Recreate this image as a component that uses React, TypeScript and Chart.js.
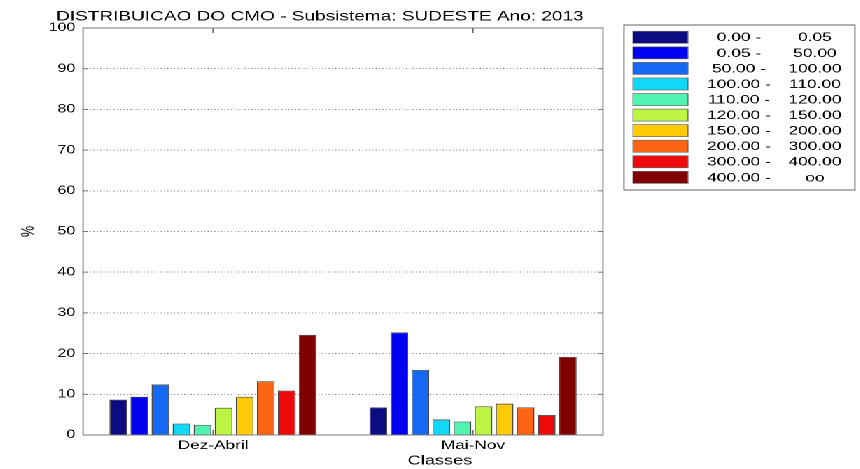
import React, { useEffect, useRef } from 'react';
import { Chart, registerables } from 'chart.js';

Chart.register(...registerables);

// ---------- data ----------
const titleText = 'DISTRIBUICAO DO CMO - Subsistema: SUDESTE Ano: 2013';
const categories = ['Dez-Abril', 'Mai-Nov'];
const rangeLow = ['0.00 -', '0.05 -', '50.00 -', '100.00 -', '110.00 -', '120.00 -', '150.00 -', '200.00 -', '300.00 -', '400.00 -'];
const rangeHigh = ['0.05', '50.00', '100.00', '110.00', '120.00', '150.00', '200.00', '300.00', '400.00', 'oo'];
const dezAbril = [8.7, 9.4, 12.4, 2.8, 2.5, 6.7, 9.4, 13.2, 10.9, 24.6];
const maiNov = [6.8, 25.2, 16.0, 3.8, 3.3, 7.0, 7.7, 6.8, 4.9, 19.2];
const colors = ['#0b0b82', '#0000f0', '#1468f2', '#10d9f7', '#50f3b0', '#bcf542', '#fecb06', '#fa6412', '#ee0a0a', '#800000'];
const yTicks = [0, 10, 20, 30, 40, 50, 60, 70, 80, 90, 100];
const yTitle = '%';
const xTitle = 'Classes';

// ---------- layout (the whole canvas is stretched horizontally by S) ----------
const S = 1.4;
const W = 860;
const H = 469;
const FONT = '"Liberation Sans", Arial, Helvetica, sans-serif';

const framePlugin = {
  id: 'frameAndLegend',
  afterDraw(chart: any) {
    const { ctx, chartArea: a, scales } = chart;
    ctx.save();
    const line = (x1: number, y1: number, x2: number, y2: number) => {
      ctx.beginPath();
      ctx.moveTo(x1, y1);
      ctx.lineTo(x2, y2);
      ctx.stroke();
    };
    ctx.strokeStyle = '#6e6e6e';
    ctx.lineWidth = 0.9;
    ctx.strokeRect(a.left, a.top, a.right - a.left, a.bottom - a.top);
    const tl = 5 / S;
    yTicks.forEach((v) => {
      const y = scales.y.getPixelForValue(v);
      line(a.left, y, a.left + tl, y);
      line(a.right, y, a.right - tl, y);
    });
    categories.forEach((_c, i) => {
      const x = scales.x.getPixelForValue(i);
      line(x, a.bottom, x, a.bottom - 5);
      line(x, a.top, x, a.top + 5);
    });

    // title
    ctx.fillStyle = '#000';
    ctx.font = `13.6px ${FONT}`;
    ctx.textAlign = 'left';
    ctx.textBaseline = 'alphabetic';
    ctx.fillText(titleText, 40, 20.5);

    // x axis title (offset to the right as in the reference)
    ctx.font = `13px ${FONT}`;
    ctx.textAlign = 'center';
    ctx.textBaseline = 'middle';
    ctx.fillText(xTitle, 440 / S, 461);

    // legend
    const bx1 = 624 / S, bx2 = 855 / S, by1 = 25, by2 = 190;
    ctx.fillStyle = '#fff';
    ctx.fillRect(bx1, by1, bx2 - bx1, by2 - by1);
    ctx.strokeStyle = '#555';
    ctx.lineWidth = 0.9;
    ctx.strokeRect(bx1, by1, bx2 - bx1, by2 - by1);
    const sx1 = 633 / S, sx2 = 688 / S;
    ctx.font = `12.4px ${FONT}`;
    ctx.textBaseline = 'middle';
    ctx.textAlign = 'center';
    rangeLow.forEach((lo, i) => {
      const cy = 37.3 + 15.56 * i;
      ctx.fillStyle = colors[i];
      ctx.fillRect(sx1, cy - 6, sx2 - sx1, 12);
      ctx.strokeStyle = '#666';
      ctx.lineWidth = 0.7;
      ctx.strokeRect(sx1, cy - 6, sx2 - sx1, 12);
      ctx.fillStyle = '#000';
      ctx.fillText(lo, 739 / S, cy + 0.5);
      ctx.fillText(rangeHigh[i], 815 / S, cy + 0.5);
    });
    ctx.restore();
  },
};

export default function App() {
  const ref = useRef<HTMLCanvasElement>(null);

  useEffect(() => {
    if (!ref.current) return;
    const chart = new Chart(ref.current, {
      type: 'bar',
      data: {
        labels: categories,
        datasets: rangeLow.map((lo, i) => ({
          label: `${lo} ${rangeHigh[i]}`,
          data: [dezAbril[i], maiNov[i]],
          backgroundColor: colors[i],
          borderColor: 'rgba(40,40,40,0.85)',
          borderWidth: 0.8,
          categoryPercentage: 0.81,
          barPercentage: 0.84,
        })),
      },
      options: {
        animation: false,
        responsive: true,
        maintainAspectRatio: false,
        devicePixelRatio: 2,
        layout: { padding: { top: 28, right: (W - 603) / S, left: 0, bottom: 0 } },
        plugins: {
          legend: { display: false },
          title: { display: false },
          tooltip: { enabled: false },
        },
        scales: {
          x: {
            grid: { display: false, drawTicks: false },
            border: { display: false },
            ticks: { color: '#000', font: { family: FONT, size: 12.3 }, padding: 3, maxRotation: 0 },
            title: { display: false, text: xTitle },
            afterFit: (s: any) => { s.height = 34; },
          },
          y: {
            min: 0,
            max: 100,
            afterBuildTicks: (s: any) => { s.ticks = yTicks.map((v) => ({ value: v })); },
            ticks: { color: '#000', font: { family: FONT, size: 11.5 }, padding: 5.5, callback: (v: any) => String(v) },
            grid: {
              drawTicks: false,
              lineWidth: 1,
              color: (c: any) => (c.tick && (c.tick.value === 0 || c.tick.value === 100) ? 'rgba(0,0,0,0)' : '#8c8c8c'),
            },
            border: { display: false, dash: [0.8, 1.6] },
            title: { display: true, text: yTitle, color: '#000', font: { family: FONT, size: 12.5 }, padding: { top: 13, bottom: 0 } },
            afterFit: (s: any) => { s.width = 83 / S; },
          },
        },
      },
      plugins: [framePlugin],
    } as any);
    return () => chart.destroy();
  }, []);

  return (
    <div
      style={{
        position: 'fixed',
        left: 0,
        top: 0,
        width: W / S,
        height: H,
        transform: `scaleX(${S})`,
        transformOrigin: '0 0',
        background: '#fff',
      }}
    >
      <canvas ref={ref} />
    </div>
  );
}
